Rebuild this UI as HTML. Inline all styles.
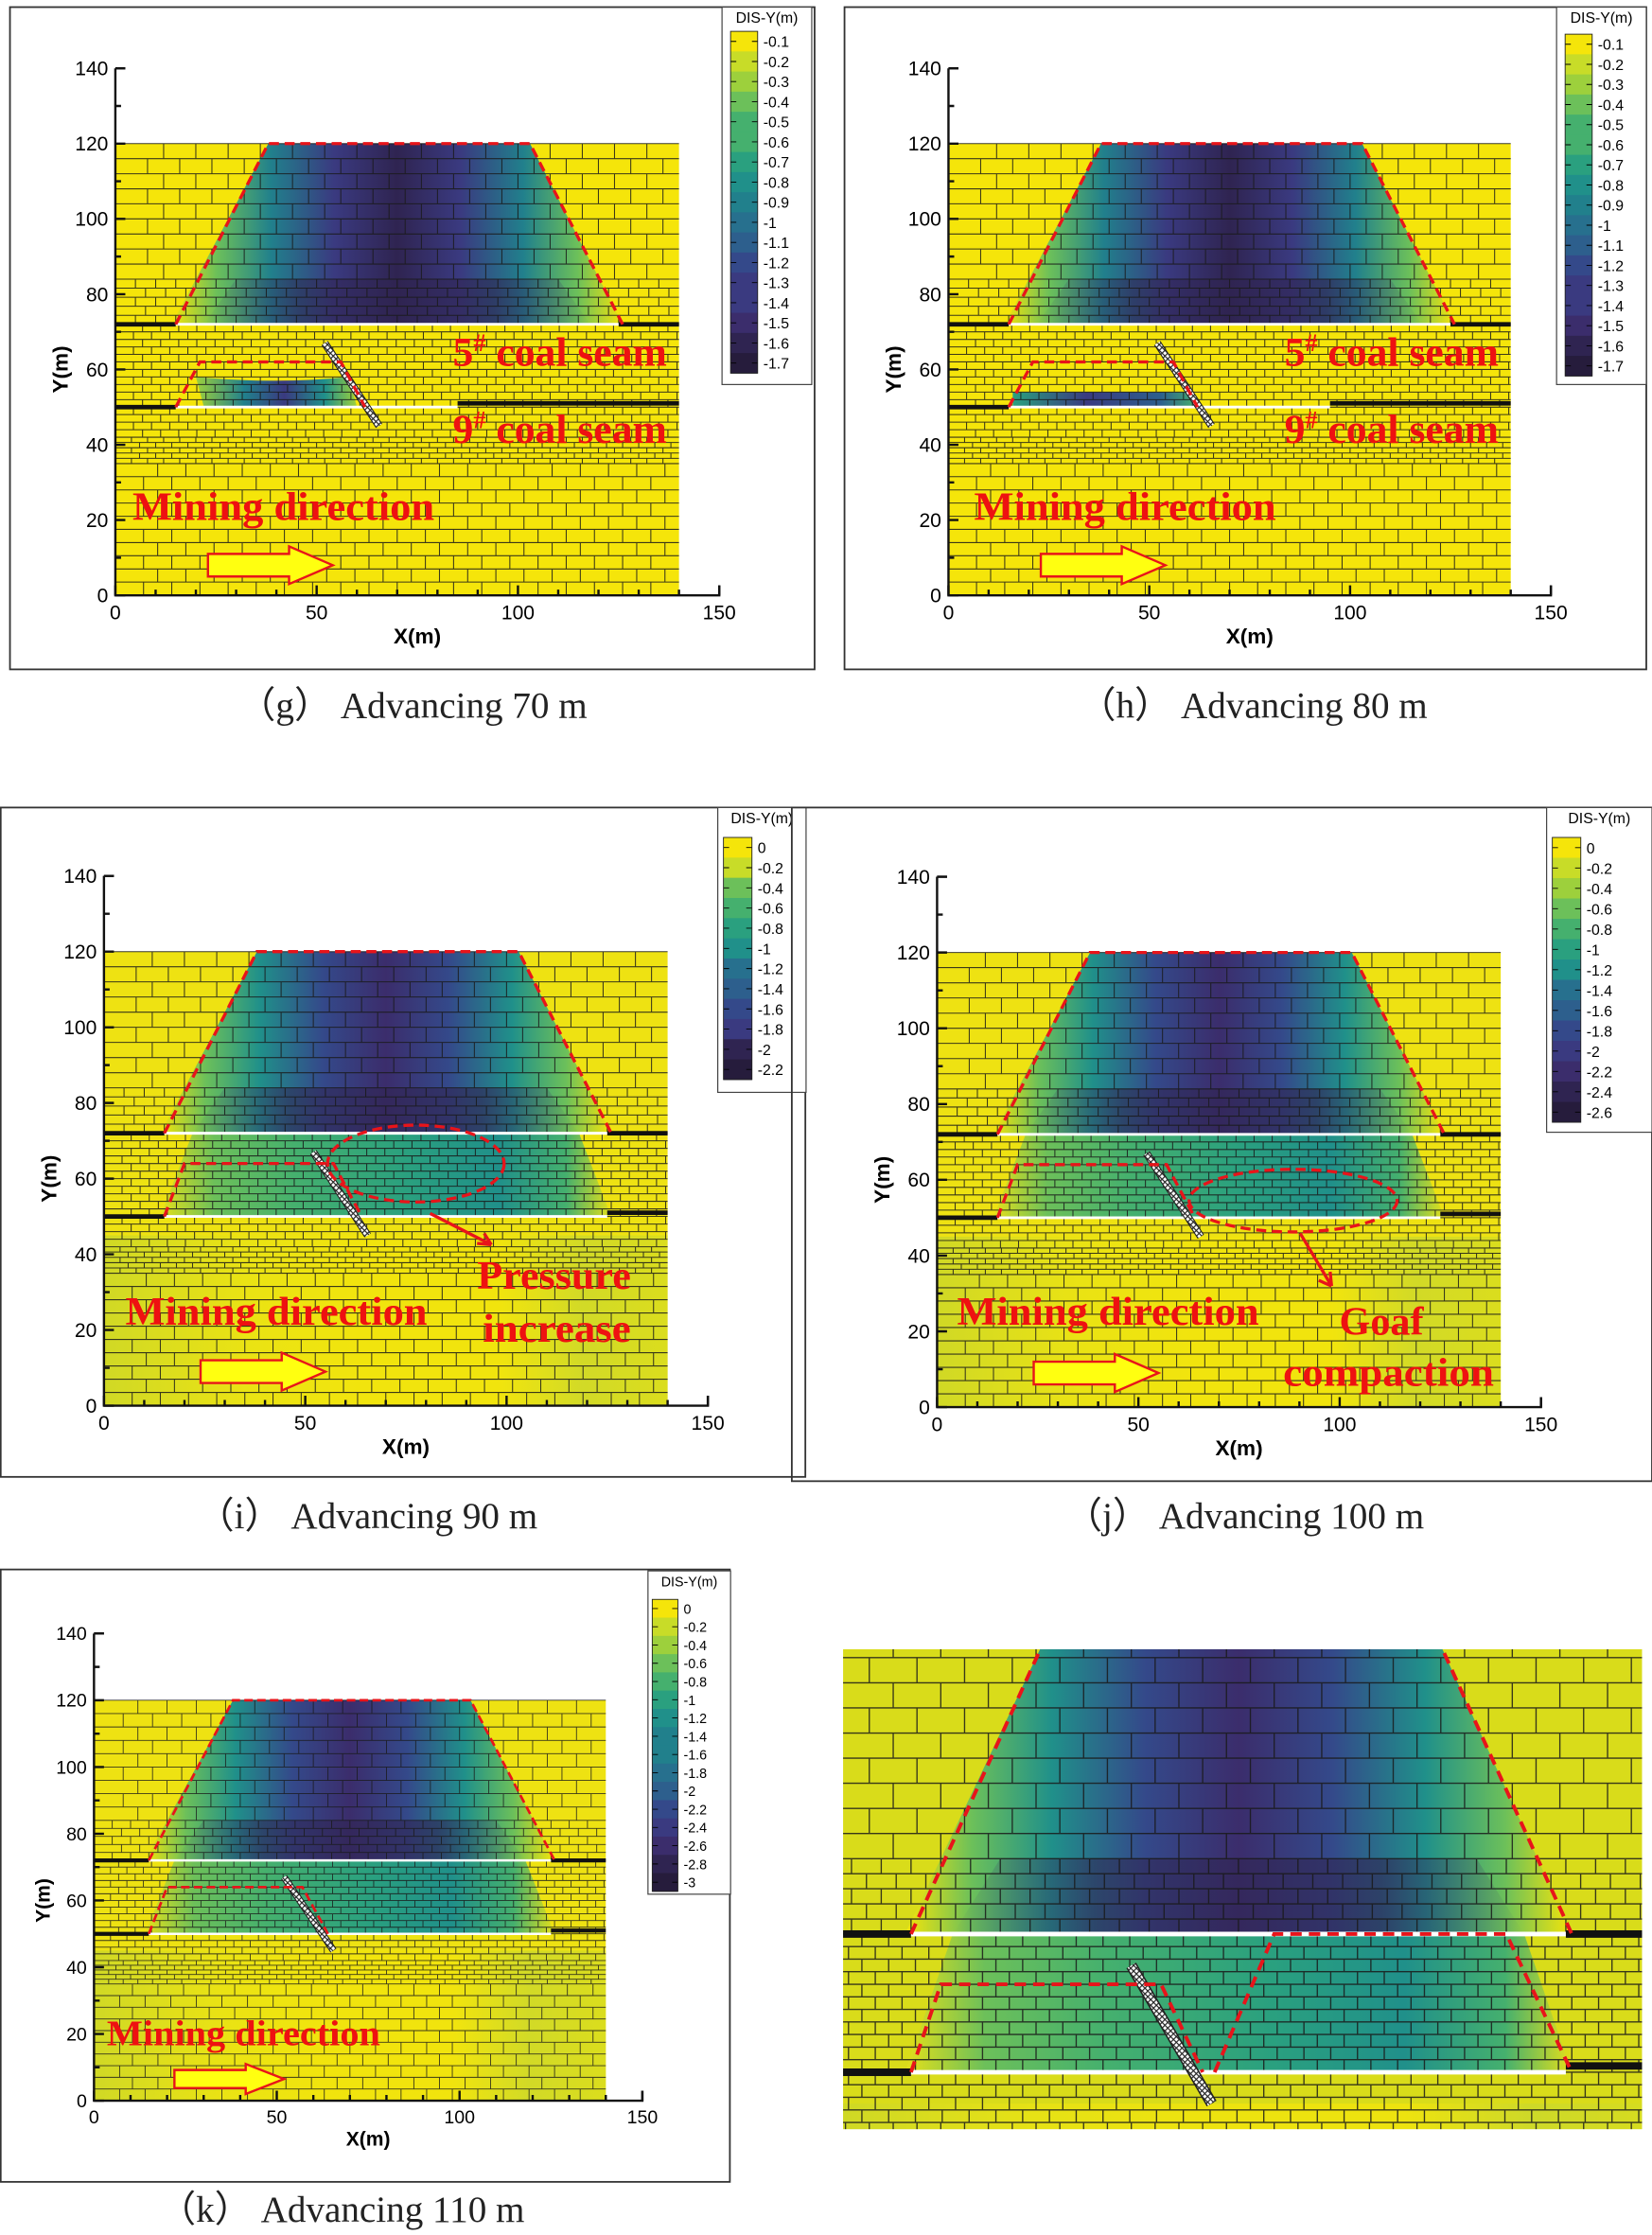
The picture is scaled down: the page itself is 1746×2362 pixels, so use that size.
<!DOCTYPE html>
<html><head><meta charset="utf-8">
<style>html,body{margin:0;padding:0;background:#fff;overflow:hidden;width:1746px;height:2362px}svg{display:block}</style>
</head><body>
<svg id="s" xmlns="http://www.w3.org/2000/svg" width="1746" height="2362" viewBox="0 0 1160 1569.3" preserveAspectRatio="none">
<defs>
<pattern id="hatch" width="4" height="4" patternUnits="userSpaceOnUse"><rect width="4" height="4" fill="#fff"/><path d="M0 4L4 0M0 0L4 4" stroke="#222" stroke-width="0.8"/></pattern>
</defs>
</svg>
<script>
const S=document.getElementById('s');const NS='http://www.w3.org/2000/svg';
let uid=0;
function el(tag,attrs,parent,text){const e=document.createElementNS(NS,tag);for(const k in attrs)e.setAttribute(k,attrs[k]);if(text!==undefined)e.textContent=text;(parent||S).appendChild(e);return e;}
const defs=S.querySelector('defs');
const VIR=['#f5e50a','#c8dc28','#9dd03c','#6cc05a','#45b06e','#2aa07f','#20908a','#21808c','#27708e','#2d5f8d','#34498a','#3a3a80','#3b2d6c','#2f2451','#261c3c'];
function grad(stops,x1,x2,y1,y2){const id='g'+(uid++);const g=el('linearGradient',{id:id,gradientUnits:'userSpaceOnUse',x1:x1,x2:x2,y1:y1,y2:y2},defs);stops.forEach(s=>el('stop',{offset:s[0],'stop-color':s[1],'stop-opacity':s[2]===undefined?1:s[2]},g));return 'url(#'+id+')';}
function model(p){
 const X=m=>p.ox+m*p.sx, Y=m=>p.oy-m*p.sy;
 let root=S;
 if(p.clip){const id='c'+(uid++);const c=el('clipPath',{id:id},defs);el('rect',{x:p.clip[0],y:p.clip[1],width:p.clip[2],height:p.clip[3]},c);root=el('g',{'clip-path':'url(#'+id+')'});}
 el('rect',{x:X(0),y:Y(120),width:140*p.sx,height:120*p.sy,fill:p.bg},root);
 if(p.v>=2){
  el('rect',{x:X(0),y:Y(45),width:140*p.sx,height:45*p.sy,fill:grad([[0,'#c9d62a'],[0.25,'#e9e314'],[0.45,'#f2e50c'],[0.7,'#f2e50c'],[0.85,'#cbd82c'],[1,'#d6dc20']],X(0),X(140),0,0),opacity:0.8},root);
 }
 if(p.v===0){
  el('path',{d:`M${X(20)} ${Y(58)} Q${X(40)} ${Y(56)} ${X(58)} ${Y(58)} L${X(60)} ${Y(50)} L${X(22)} ${Y(50)}Z`,fill:grad([[0,VIR[2]],[0.3,VIR[7]],[0.55,VIR[11]],[0.8,VIR[6]],[1,VIR[2]]],X(20),X(60),0,0)},root);
 } else if(p.v===1){
  el('path',{d:`M${X(16)} ${Y(54)} L${X(60)} ${Y(54)} L${X(62)} ${Y(50)} L${X(16)} ${Y(50)}Z`,fill:grad([[0,VIR[5]],[0.4,VIR[11]],[0.8,VIR[9]],[1,VIR[4]]],X(16),X(62),0,0)},root);
 } else {
  el('path',{d:`M${X(14)} ${Y(50)} L${X(22)} ${Y(72)} L${X(118)} ${Y(72)} L${X(126)} ${Y(50)}Z`,fill:grad([[0,'#e4e01a'],[0.12,VIR[3]],[0.3,VIR[4]],[0.55,VIR[5]],[0.75,VIR[6]],[0.9,VIR[4]],[1,'#e4e01a']],X(14),X(126),0,0)},root);
 }
 const deep=p.v>=2?[VIR[0],VIR[3],VIR[6],VIR[10],VIR[12]]:[VIR[0],VIR[3],VIR[7],VIR[11],VIR[13]];
 el('path',{d:`M${X(14)} ${Y(72)} L${X(38)} ${Y(120)} L${X(103)} ${Y(120)} L${X(126)} ${Y(72)}Z`,fill:grad([[0,deep[0]],[0.1,deep[1]],[0.22,deep[2]],[0.36,deep[3]],[0.5,deep[4]],[0.64,deep[3]],[0.78,deep[2]],[0.9,deep[1]],[1,deep[0]]],X(14),X(126),0,0)},root);
 el('path',{d:`M${X(22)} ${Y(72)} L${X(30)} ${Y(84)} L${X(110)} ${Y(84)} L${X(118)} ${Y(72)}Z`,fill:grad([[0,VIR[12],0],[0.25,VIR[13],0.55],[0.75,VIR[13],0.6],[1,VIR[12],0]],X(22),X(118),0,0)},root);
 const layers=[[0,35,3.5,7],[35,42,1.4,4],[42,72,2,4.5],[72,84,2.4,5],[84,120,4,8]];
 let d='';let r=0;
 layers.forEach(L=>{for(let y=L[0];y<L[1]-0.01;y+=L[2]){const y2=Math.min(y+L[2],L[1]);d+=`M${X(0)} ${Y(y2).toFixed(1)}H${X(140)}`;const off=(r++%2)?L[3]/2:0;for(let x=off+L[3];x<140;x+=L[3]){d+=`M${X(x).toFixed(1)} ${Y(y).toFixed(1)}V${Y(y2).toFixed(1)}`;}}});
 el('path',{d:d,stroke:'#1a1a1a','stroke-width':p.bw||0.7,fill:'none',opacity:0.85},root);
 const sw=Math.max(2.5,1.2*p.sy);
 el('path',{d:`M${X(0)} ${Y(72)}H${X(15)}M${X(125)} ${Y(72)}H${X(140)}`,stroke:'#111','stroke-width':sw},root);
 el('path',{d:`M${X(15)} ${Y(72)}H${X(125)}`,stroke:'#fff','stroke-width':sw*0.6},root);
 const e9=p.v===0?85:(p.v===1?95:125);
 el('path',{d:`M${X(0)} ${Y(50)}H${X(15)}M${X(e9)} ${Y(51)}H${X(140)}`,stroke:'#111','stroke-width':sw},root);
 el('path',{d:`M${X(15)} ${Y(50)}H${X(e9)}`,stroke:'#fff','stroke-width':sw*0.6},root);
 el('path',{d:`M${X(52)} ${Y(67)} L${X(65.5)} ${Y(45)}`,stroke:'#222','stroke-width':Math.max(5,1.9*p.sx)},root);
 el('path',{d:`M${X(52)} ${Y(67)} L${X(65.5)} ${Y(45)}`,stroke:'url(#hatch)','stroke-width':Math.max(3.5,1.4*p.sx)},root);
 const rd={stroke:'#e8141a','stroke-width':p.dw||2.2,fill:'none','stroke-dasharray':p.dash||'7 4'};
 el('path',Object.assign({d:`M${X(15)} ${Y(72)} L${X(38)} ${Y(120)} L${X(103)} ${Y(120)} L${X(126)} ${Y(72)}`},rd),root);
 if(p.v===0||p.v===1) el('path',Object.assign({d:`M${X(15)} ${Y(50)} L${X(21)} ${Y(62)} L${X(56)} ${Y(62)} L${X(62)} ${Y(50)}`},rd),root);
 else el('path',Object.assign({d:`M${X(15)} ${Y(50)} L${X(20)} ${Y(64)} L${X(57)} ${Y(64)} L${X(64)} ${Y(50)}`},rd),root);
 if(p.inset){
  el('path',Object.assign({d:`M${X(66)} ${Y(50)} L${X(76)} ${Y(72)} L${X(115)} ${Y(72)} L${X(126)} ${Y(50)}`},rd),root);
 }
 return {X,Y};
}
function axes(p,labelSize){
 const X=m=>p.ox+m*p.sx, Y=m=>p.oy-m*p.sy;
 const st={stroke:'#111','stroke-width':1.6,fill:'none'};
 el('path',Object.assign({d:`M${X(0)} ${Y(140)}H${X(0)+7}M${X(0)} ${Y(140)}V${Y(0)}H${X(150)}V${Y(0)-7}`},st));
 let t='';for(let v=0;v<=140;v+=10){t+=`M${X(0)} ${Y(v)}h${v%20?4:7}`;}
 for(let v=0;v<=150;v+=10){t+=`M${X(v)} ${Y(0)}v${v%50?-4:-7}`;}
 el('path',Object.assign({d:t},st));
 const fs=labelSize||14;
 for(let v=0;v<=140;v+=20)el('text',{x:X(0)-5,y:Y(v)+fs*0.35,'text-anchor':'end','font-size':fs,'font-family':'Liberation Sans,sans-serif'},null,v);
 for(let v=0;v<=150;v+=50)el('text',{x:X(v),y:Y(0)+fs+3,'text-anchor':'middle','font-size':fs,'font-family':'Liberation Sans,sans-serif'},null,v);
 el('text',{x:X(75),y:Y(0)+fs*2.2+3,'text-anchor':'middle','font-size':fs+1,'font-weight':'bold','font-family':'Liberation Sans,sans-serif'},null,'X(m)');
 const yx=X(0)-fs*2.4,yy=Y(60);
 el('text',{x:yx,y:yy,'text-anchor':'middle','font-size':fs+1,'font-weight':'bold','font-family':'Liberation Sans,sans-serif',transform:`rotate(-90 ${yx} ${yy})`},null,'Y(m)');
}
function cbar(bx,by,bw,bh,cx,cy,cw,ch,labels,fs){
 el('rect',{x:bx,y:by,width:bw,height:bh,fill:'#fff',stroke:'#444','stroke-width':0.8});
 el('text',{x:bx+bw/2,y:by+11,'text-anchor':'middle','font-size':fs,'font-family':'Liberation Sans,sans-serif'},null,'DIS-Y(m)');
 const n=labels.length,h=ch/n;
 for(let i=0;i<n;i++){const ci=Math.round(i*(VIR.length-1)/(n-1));el('rect',{x:cx,y:cy+i*h,width:cw,height:h+0.3,fill:VIR[ci]});
  el('path',{d:`M${cx} ${cy+i*h+h/2}h4M${cx+cw} ${cy+i*h+h/2}h-4`,stroke:'#000','stroke-width':0.6});
  el('text',{x:cx+cw+4,y:cy+i*h+h/2+fs*0.38,'font-size':fs,'font-family':'Liberation Sans,sans-serif'},null,labels[i]);}
 el('rect',{x:cx,y:cy,width:cw,height:ch,fill:'none',stroke:'#222','stroke-width':0.6});
}
function redText(x,y,s,fs,anchor,len){const a={x:x,y:y,'font-size':fs,'font-weight':'bold','font-family':'Liberation Serif,serif',fill:'#ee1111','text-anchor':anchor||'start'};if(len){a.textLength=len;a.lengthAdjust='spacingAndGlyphs';}const t=el('text',a);t.textContent=s;return t;}
function seamText(x,y,n,fs){const t=el('text',{x:x,y:y,'font-size':fs,'font-weight':'bold','font-family':'Liberation Serif,serif',fill:'#ee1111','text-anchor':'end'});t.appendChild(document.createTextNode(n));el('tspan',{'font-size':fs*0.6,dy:-fs*0.35},t,'#');el('tspan',{dy:fs*0.35},t,' coal seam');}
function yarrow(X,Y,a,b,yb,yt){const xm=X(b)-(X(b)-X(a))*0.35,h=Y(yb)-Y(yt),yc=(Y(yb)+Y(yt))/2;
 el('path',{d:`M${X(a)} ${yc-h*0.3}H${xm}V${Y(yt)}L${X(b)} ${yc}L${xm} ${Y(yb)}V${yc+h*0.3}H${X(a)}Z`,fill:'#ffff10',stroke:'#e8141a','stroke-width':1.6});}
function caption(x,y,s){el('text',{x:x,y:y,'text-anchor':'middle','font-size':26,'font-family':'Liberation Serif,serif',fill:'#222'},null,s);}
function frame(x,y,w,h){el('rect',{x:x,y:y,width:w,height:h,fill:'none',stroke:'#333','stroke-width':1.2});}

const L17=[];for(let i=1;i<=17;i++){let s='-'+(i/10);L17.push(s);}

// (g)
let p={ox:81,oy:418,sx:2.827,sy:2.643,v:0,bg:'#f5e50a'};
frame(7,5,565,465);let m=model(p);axes(p,14);
seamText(m.X(137),m.Y(61),'5',29);seamText(m.X(137),m.Y(40.5),'9',29);
redText(93,m.Y(20),'Mining direction',28,'start',212);yarrow(m.X,m.Y,23,54,3,13);
cbar(507,5,63,265,513,22,19,240,L17,10.5);
caption(290,504,'（g）  Advancing 70 m');
// (h)
p={ox:666,oy:418,sx:2.82,sy:2.643,v:1,bg:'#f5e50a'};
frame(593,5,563,465);m=model(p);axes(p,14);
seamText(m.X(137),m.Y(61),'5',29);seamText(m.X(137),m.Y(40.5),'9',29);
redText(684,m.Y(20),'Mining direction',28,'start',212);yarrow(m.X,m.Y,23,54,3,13);
cbar(1093,5,63,265,1099,24,19,240,L17,10.5);
caption(880,504,'（h）  Advancing 80 m');
// (i)
p={ox:73,oy:987,sx:2.827,sy:2.657,v:2,bg:'#eee212'};
frame(0.5,567,565,470);m=model(p);axes(p,14);
el('ellipse',{cx:292,cy:817,rx:62,ry:27,fill:'none',stroke:'#e8141a','stroke-width':2.2,'stroke-dasharray':'7 4'});
el('path',{d:'M302 852L345 874M345 874l-10 -1M345 874l-5 -8',stroke:'#e8141a','stroke-width':2.2,fill:'none'});
redText(389,905,'Pressure',28,'middle',108);redText(391,942,'increase',28,'middle',104);
redText(88,930,'Mining direction',28,'start',212);yarrow(m.X,m.Y,24,55,4,14);
const L22=['0','-0.2','-0.4','-0.6','-0.8','-1','-1.2','-1.4','-1.6','-1.8','-2','-2.2'];
cbar(504,567,62,200,508,588,20,170,L22,10.5);
caption(258,1073,'（i）  Advancing 90 m');
// (j)
p={ox:658,oy:988,sx:2.827,sy:2.66,v:3,bg:'#eee212'};
frame(556,567,604,473);m=model(p);axes(p,14);
el('ellipse',{cx:908,cy:843,rx:73,ry:22,fill:'none',stroke:'#e8141a','stroke-width':2.2,'stroke-dasharray':'7 4'});
el('path',{d:'M913 866L935 903M935 903l-1 -10M935 903l-9 -4',stroke:'#e8141a','stroke-width':2.2,fill:'none'});
redText(970,937,'Goaf',28,'middle');redText(975,973,'compaction',28,'middle',148);
redText(672,930,'Mining direction',28,'start',212);yarrow(m.X,m.Y,24,55,4,14);
const L26=['0','-0.2','-0.4','-0.6','-0.8','-1','-1.2','-1.4','-1.6','-1.8','-2','-2.2','-2.4','-2.6'];
cbar(1086,567,74,228,1090,588,20,200,L26,10.5);
caption(874,1073,'（j）  Advancing 100 m');
// (k)
p={ox:66,oy:1475,sx:2.567,sy:2.343,v:4,bg:'#eee212',dw:1.8,dash:'6 3',bw:0.6};
frame(0.5,1102,512,430);m=model(p);axes(p,13);
redText(75,1436,'Mining direction',25,'start',192);yarrow(m.X,m.Y,22,52,2,11);
const L30=['0','-0.2','-0.4','-0.6','-0.8','-1','-1.2','-1.4','-1.6','-1.8','-2','-2.2','-2.4','-2.6','-2.8','-3'];
cbar(455,1103,58,227,458,1123,18,205,L30,9.5);
caption(240,1560,'（k）  Advancing 110 m');
// inset
p={ox:577,oy:1675.5,sx:4.18,sy:4.41,v:5,bg:'#d9dc1a',clip:[592,1158,561,337],inset:true,dw:2.6,dash:'8 5',bw:0.9};
model(p);
el('path',{d:'M520 1613H556V1600L581 1623L556 1646V1633H520Z',fill:'#ee1111'});
</script>
</body></html>
